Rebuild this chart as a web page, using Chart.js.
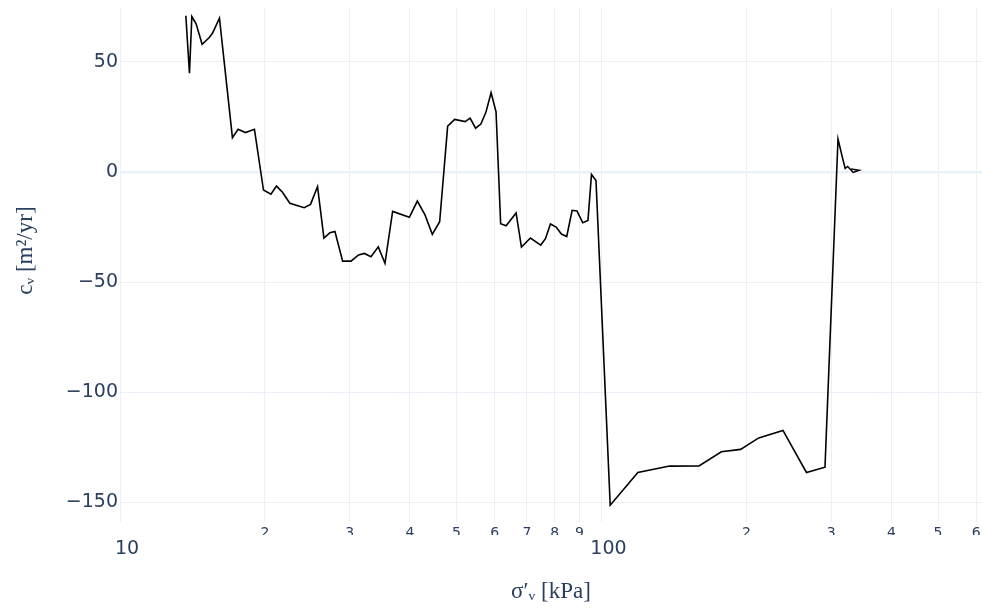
<!DOCTYPE html>
<html>
<head>
<meta charset="utf-8">
<script src="https://cdn.jsdelivr.net/npm/chart.js@4.4.1/dist/chart.umd.min.js"></script>
<style>
  html, body { margin: 0; padding: 0; background: #ffffff; }
  #wrap { width: 982px; height: 610px; }
</style>
</head>
<body>
<div id="wrap"><canvas id="c" width="982" height="610"></canvas></div>
<script>
// Effective vertical stress [kPa]
const sigma = [13.70,13.94,14.10,14.39,14.81,15.31,15.56,16.09,17.12,17.59,18.22,19.02,19.86,20.58,21.13,21.75,22.53,24.13,24.87,25.72,26.52,27.29,27.95,29.0,30.18,31.30,32.17,33.21,34.39,35.51,36.83,39.90,41.45,43.0,44.53,46.12,47.92,49.55,52.08,53.36,54.76,56.17,57.53,58.98,60.40,61.74,63.37,66.48,68.19,71.19,74.79,76.49,78.34,80.5,82.56,84.69,86.90,88.92,91.42,93.74,95.33,97.41,104.26,119.0,138.5,159.4,177.4,194.5,212.1,238.2,266.5,291.2,309.9,317.4,320.7,324.6,333.3,342.7,330.1];
// Coefficient of consolidation [m^2/yr]
const cv = [71.0,44.9,70.6,67.3,58.0,61.0,63.0,69.9,15.6,19.4,17.9,19.4,-8.2,-10.1,-6.4,-9.2,-14.2,-16.2,-14.7,-6.7,-30.0,-27.6,-27.0,-40.5,-40.5,-37.7,-37.0,-38.5,-34.0,-41.5,-17.9,-20.6,-13.2,-19.5,-28.3,-22.6,20.8,23.9,22.9,24.5,19.9,21.8,27.1,36.0,27.3,-23.5,-24.4,-18.6,-34.1,-30.0,-33.2,-30.3,-23.6,-25.0,-28.2,-29.3,-17.4,-17.7,-23.0,-22.0,-1.1,-3.9,-151.4,-136.5,-133.6,-133.5,-127.1,-126.0,-120.8,-117.4,-136.5,-134.1,15.0,5.5,1.6,2.5,-0.2,0.8,1.4];

// Tick positions and labels
const xMinorTicks = [20,30,40,50,60,70,80,90,200,300,400,500,600];
const xMinorLabels = ['2','3','4','5','6','7','8','9','2','3','4','5','6'];
const xGridTicks = [10,20,30,40,50,60,70,80,90,100,200,300,400,500,600];
const xMajorTicks = [10,100];
const xMajorLabels = ['10','100'];
const yTicks = [-150,-100,-50,0,50];

const X_MIN = 10, X_MAX = 617, Y_MIN = -159, Y_MAX = 74.5;
const TXT = '#2a3f5f';
const GRID = '#ebf0f8';

const points = sigma.map((s, i) => ({x: s, y: cv[i]}));

function zeroPad(s) { s.paddingTop = 0; s.paddingBottom = 0; s.paddingLeft = 0; s.paddingRight = 0; }

new Chart(document.getElementById('c'), {
  type: 'line',
  data: {
    datasets: [{
      data: points,
      borderColor: '#000000',
      borderWidth: 1.6,
      pointRadius: 0,
      pointHoverRadius: 0,
      tension: 0,
      fill: false
    }]
  },
  options: {
    responsive: false,
    animation: false,
    devicePixelRatio: 1,
    layout: { padding: { top: 8, right: 0, left: 0, bottom: 0 } },
    plugins: { legend: { display: false }, tooltip: { enabled: false } },
    scales: {
      x: {
        type: 'logarithmic',
        position: 'bottom',
        weight: 0,
        min: X_MIN, max: X_MAX,
        afterBuildTicks: (s) => { s.ticks = xGridTicks.map(v => ({value: v})); },
        afterFit: (s) => { s.height = 13; zeroPad(s); },
        grid: { color: GRID, lineWidth: 1, drawTicks: false },
        border: { display: false },
        ticks: {
          autoSkip: false, maxRotation: 0, minRotation: 0, padding: 3,
          color: TXT,
          font: { family: 'DejaVu Sans', size: 14 },
          callback: (v) => { const i = xMinorTicks.indexOf(v); return i >= 0 ? xMinorLabels[i] : ''; }
        }
      },
      x2: {
        type: 'logarithmic',
        position: 'bottom',
        weight: 1,
        min: X_MIN, max: X_MAX,
        afterBuildTicks: (s) => { s.ticks = xMajorTicks.map(v => ({value: v})); },
        afterFit: (s) => { s.height = 75; zeroPad(s); },
        grid: { display: false, drawTicks: false },
        border: { display: false },
        ticks: {
          autoSkip: false, maxRotation: 0, minRotation: 0, padding: 3, labelOffset: 7,
          color: TXT,
          font: { family: 'DejaVu Sans', size: 19 },
          callback: (v) => { const i = xMajorTicks.indexOf(v); return i >= 0 ? xMajorLabels[i] : ''; }
        },
        title: {
          display: true,
          text: 'σ′ᵥ [kPa]',
          color: TXT,
          font: { family: 'Liberation Serif', size: 23 },
          padding: { top: 0, bottom: 4 }
        }
      },
      y: {
        type: 'linear',
        min: Y_MIN, max: Y_MAX,
        afterBuildTicks: (s) => { s.ticks = yTicks.map(v => ({value: v})); },
        afterFit: (s) => { s.width = 120; zeroPad(s); },
        grid: {
          color: GRID,
          lineWidth: (ctx) => (ctx.tick && ctx.tick.value === 0 ? 2.5 : 1),
          drawTicks: false
        },
        border: { display: false },
        ticks: {
          padding: 2,
          color: TXT,
          font: { family: 'DejaVu Sans', size: 19 },
          callback: (v) => (v < 0 ? '\u2212' + Math.abs(v) : String(v))
        },
        title: {
          display: true,
          text: '     cᵥ [m²/yr]',
          color: TXT,
          font: { family: 'Liberation Serif', size: 23 },
          padding: { top: 12, bottom: 0 }
        }
      }
    }
  }
});
</script>
</body>
</html>
